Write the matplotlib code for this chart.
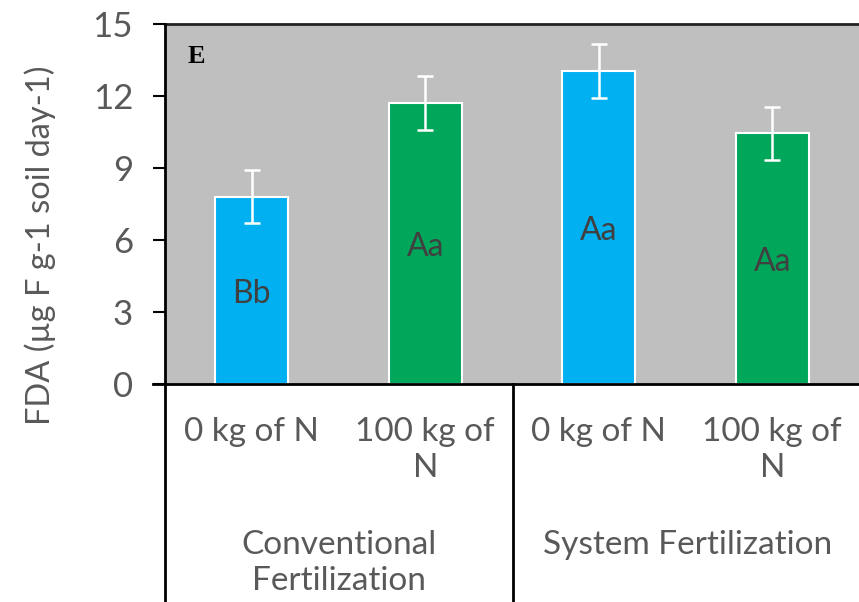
import numpy as np
import matplotlib.pyplot as plt
from matplotlib.lines import Line2D

plt.rcParams['font.family'] = ['Lato', 'DejaVu Sans']

doses = ['0 kg of N', '100 kg of\nN', '0 kg of N', '100 kg of\nN']
groups = ['Conventional\nFertilization', 'System Fertilization']
fda = [7.8, 11.7, 13.05, 10.45]
err = [1.1, 1.12, 1.12, 1.1]
letters = ['Bb', 'Aa', 'Aa', 'Aa']
colors = ['#00B0F0', '#00A65A', '#00B0F0', '#00A65A']

W, H = 859, 602
fig = plt.figure(figsize=(W / 100, H / 100), dpi=100)
ax = fig.add_axes([165 / W, 1 - 384 / H, 694 / W, 360 / H])
ax.set_facecolor('#BFBFBF')

x = np.arange(len(fda))
ax.bar(x, fda, width=0.42, color=colors, edgecolor='white', linewidth=1.5, zorder=2)
ax.errorbar(x, fda, yerr=err, fmt='none', ecolor='white', elinewidth=1.8,
            capsize=6, capthick=1.8, zorder=3)
for xi, v, lab in zip(x, fda, letters):
    ax.text(xi, v / 2 - 0.15, lab, ha='center', va='center', fontsize=23,
            color='#404040', zorder=4)

ax.text(0.033, 0.91, 'E', transform=ax.transAxes, fontsize=19, fontweight='bold',
        family='Liberation Serif', color='black', va='center', ha='left')

ax.set_xlim(-0.5, 3.5)
ax.set_ylim(0, 15)
ax.set_yticks(np.arange(0, 16, 3))
ax.set_xticks([])
ax.tick_params(axis='y', length=9, width=1.5, color='black', labelsize=25,
               labelcolor='#595959', pad=14)
for s in ['left', 'bottom', 'right']:
    ax.spines[s].set_visible(False)
ax.spines['top'].set_color('#222222')
ax.spines['top'].set_linewidth(2)

# axis and category divider lines
def fl(x0, y0, x1, y1):
    fig.add_artist(Line2D([x0 / W, x1 / W], [1 - y0 / H, 1 - y1 / H],
                          color='black', lw=2, transform=fig.transFigure))

fl(153, 384, W, 384)
fl(165, 24, 165, H)
fl(513, 384, 513, H)

for xi, d in zip(x, doses):
    fig.text((165 + 173.5 * (xi + 0.5)) / W, 1 - 417 / H, d, ha='center', va='top',
             fontsize=24, color='#595959', linespacing=1.25)

fig.text(339 / W, 1 - 530 / H, groups[0], ha='center', va='top', fontsize=24,
         color='#595959', linespacing=1.25)
fig.text(688 / W, 1 - 530 / H, groups[1], ha='center', va='top', fontsize=24,
         color='#595959', linespacing=1.25)

fig.text(40 / W, 1 - 245 / H, 'FDA (µg F g-1 soil day-1)', rotation=90,
         ha='center', va='center', fontsize=23.5, color='#595959')

fig.savefig('out.png', dpi=100)
